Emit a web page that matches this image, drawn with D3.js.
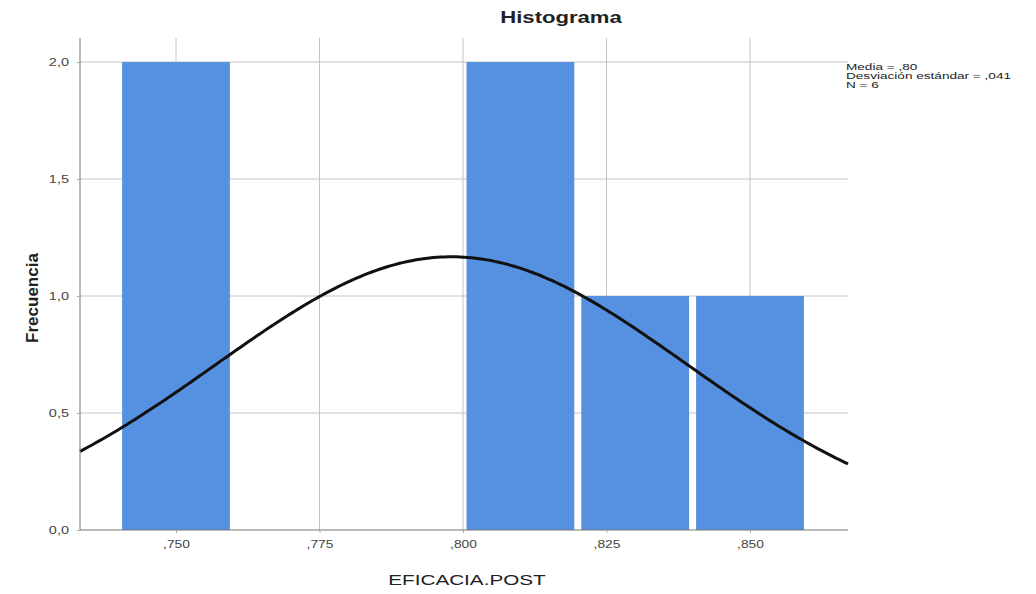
<!DOCTYPE html>
<html><head><meta charset="utf-8">
<script src="https://cdn.jsdelivr.net/npm/d3@7"></script>
<style>body{margin:0;background:#fff}svg{display:block}text{font-family:"Liberation Sans",Arial,sans-serif}</style>
</head><body>
<script>
const binCenters = [0.750, 0.770, 0.790, 0.810, 0.830, 0.850];
const counts = [2, 0, 0, 2, 1, 1];
const binWidth = 0.02;
const xTicks = [0.750, 0.775, 0.800, 0.825, 0.850];
const xTickLabels = [",750", ",775", ",800", ",825", ",850"];
const yTicks = [0, 0.5, 1.0, 1.5, 2.0];
const yTickLabels = ["0,0", "0,5", "1,0", "1,5", "2,0"];
const meanVal = 0.798, sdVal = 0.041, nVal = 6;
const legendLines = ["Media = ,80", "Desviación estándar = ,041", "N = 6"];

const W = 1036, H = 594, SX = 1.38;
const svg = d3.select("body").append("svg").attr("width", W).attr("height", H);
const x = d3.scaleLinear().domain([0.750, 0.850]).range([176, 750]);
const xMin = x.invert(80), xMax = x.invert(848);
const y = d3.scaleLinear().domain([0, 2.1]).range([530, 38.6]);

// gridlines
svg.append("g").selectAll("line").data(yTicks.filter(d => d > 0)).join("line")
  .attr("x1", 80).attr("x2", 848).attr("y1", d => y(d)).attr("y2", d => y(d))
  .attr("stroke", "#c4c4c4").attr("stroke-width", 1);
svg.append("g").selectAll("line").data(xTicks).join("line")
  .attr("x1", d => x(d)).attr("x2", d => x(d)).attr("y1", 38).attr("y2", 530)
  .attr("stroke", "#c4c4c4").attr("stroke-width", 1);

// bars
const gap = 7 / 5740;
svg.append("g").selectAll("rect").data(binCenters.map((c, i) => ({c, n: counts[i]})).filter(d => d.n > 0)).join("rect")
  .attr("x", d => x(d.c - binWidth / 2 + gap / 2))
  .attr("width", d => x(d.c + binWidth / 2 - gap / 2) - x(d.c - binWidth / 2 + gap / 2))
  .attr("y", d => y(d.n)).attr("height", d => y(0) - y(d.n))
  .attr("fill", "#5591e0");

// normal curve
const pts = d3.range(0, 201).map(i => xMin + (xMax - xMin) * i / 200);
const dens = v => nVal * binWidth / (sdVal * Math.sqrt(2 * Math.PI)) * Math.exp(-0.5 * ((v - meanVal) / sdVal) ** 2);
svg.append("path").datum(pts)
  .attr("d", d3.line().x(d => x(d)).y(d => y(dens(d))).curve(d3.curveBasis))
  .attr("fill", "none").attr("stroke", "#111").attr("stroke-width", 3);

// axes
const xAxis = d3.axisBottom(x).tickValues(xTicks).tickFormat((d, i) => xTickLabels[i]).tickSize(3).tickPadding(8);
const gx = svg.append("g").attr("transform", "translate(0,530)").call(xAxis);
gx.select(".domain").attr("d", "M80,0H848").attr("stroke", "#777");
gx.selectAll(".tick line").attr("stroke", "#aaa");
gx.selectAll("text").attr("font-size", 10).attr("fill", "#444").attr("transform", `scale(${SX},1)`);

const yAxis = d3.axisLeft(y).tickValues(yTicks).tickFormat((d, i) => yTickLabels[i]).tickSize(3).tickPadding(5);
const gy = svg.append("g").attr("transform", "translate(80,0)").call(yAxis);
gy.select(".domain").attr("d", "M0,38V530").attr("stroke", "#777");
gy.selectAll(".tick line").attr("stroke", "#aaa");
gy.selectAll("text").attr("font-size", 10.5).attr("fill", "#444").attr("transform", `scale(${SX},1)`);

// titles
svg.append("text").attr("transform", `translate(561,23) scale(${SX},1)`).attr("text-anchor", "middle")
  .attr("font-size", 16).attr("font-weight", "bold").attr("fill", "#222").text("Histograma");
svg.append("text").attr("transform", `translate(467,585) scale(${SX},1)`).attr("text-anchor", "middle")
  .attr("font-size", 15).attr("fill", "#222").text("EFICACIA.POST");
svg.append("text").attr("transform", "translate(38,298) rotate(-90)").attr("text-anchor", "middle")
  .attr("font-size", 17).attr("font-weight", "bold").attr("fill", "#222").text("Frecuencia");

// legend
svg.append("g").selectAll("text").data(legendLines).join("text")
  .attr("transform", (d, i) => `translate(846,${70 + i * 9}) scale(1.6,1)`)
  .attr("font-size", 8.5).attr("fill", "#222").text(d => d);
</script>
</body></html>
